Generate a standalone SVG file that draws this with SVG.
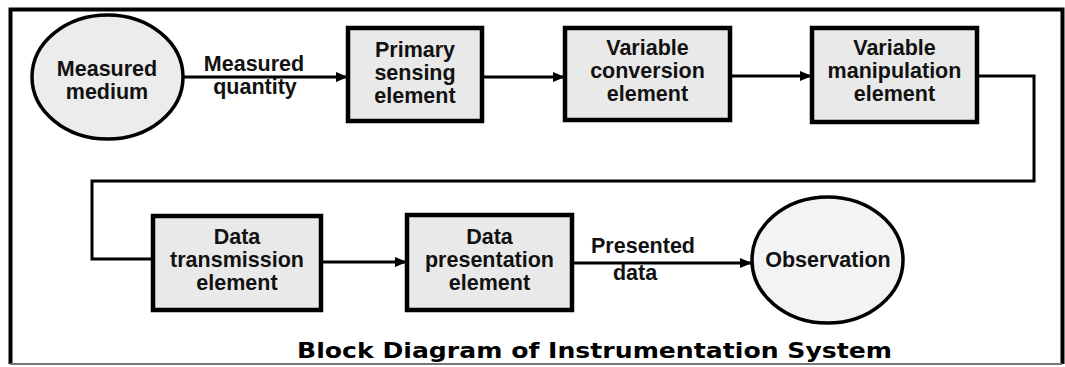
<svg xmlns="http://www.w3.org/2000/svg" width="1065" height="367" viewBox="0 0 1065 367">
<style>
.box{fill:#e9e9e9;stroke:#000;stroke-width:4.5}
.circ{fill:#ececec;stroke:#000;stroke-width:3.5}
.obs{fill:#f3f3f3;stroke:#000;stroke-width:3.5}
.t{font-family:"Liberation Sans",Arial,sans-serif;font-weight:bold;font-size:21.5px;fill:#111;text-anchor:middle}
.ln{fill:none;stroke:#000;stroke-width:3}
.title{font-family:"DejaVu Sans",Verdana,sans-serif;font-weight:bold;font-size:22px;fill:#000;text-anchor:middle}
</style>
<defs>
<marker id="ah" viewBox="0 0 12 10" refX="12" refY="5" markerWidth="12" markerHeight="10" markerUnits="userSpaceOnUse" orient="auto">
<path d="M0,0 L12,5 L0,10 Z" fill="#000"/>
</marker>
</defs>
<rect width="1065" height="367" fill="#fff"/>
<g id="frame">
<path d="M10.5,364 V9.5 H1062.5 V364" fill="none" stroke="#000" stroke-width="4"/>
<path d="M10,364 H1062" fill="none" stroke="#777" stroke-width="2"/>
</g>
<g id="connectors">
<line class="ln" x1="183" y1="77" x2="348" y2="77" marker-end="url(#ah)"/>
<line class="ln" x1="482" y1="77" x2="565" y2="77" marker-end="url(#ah)"/>
<line class="ln" x1="730" y1="76" x2="812" y2="76" marker-end="url(#ah)"/>
<path class="ln" d="M977,76 H1034 V181 H92 V259 H153"/>
<line class="ln" x1="321" y1="262" x2="407" y2="262" marker-end="url(#ah)"/>
<line class="ln" x1="572" y1="263" x2="752" y2="263" marker-end="url(#ah)"/>
<text class="t" x="254" y="71">Measured</text>
<text class="t" x="255" y="94">quantity</text>
<text class="t" x="643" y="253">Presented</text>
<text class="t" x="635" y="280">data</text>
</g>
<g id="measured-medium">
<ellipse class="circ" cx="107.5" cy="77" rx="75.5" ry="62"/>
<text class="t" x="107" y="76">Measured</text>
<text class="t" x="107" y="99">medium</text>
</g>
<g id="primary-sensing">
<rect class="box" x="348" y="28" width="134" height="93"/>
<text class="t" x="415" y="57">Primary</text>
<text class="t" x="415" y="80">sensing</text>
<text class="t" x="415" y="103">element</text>
</g>
<g id="variable-conversion">
<rect class="box" x="565" y="28" width="165" height="92"/>
<text class="t" x="647.5" y="55">Variable</text>
<text class="t" x="647.5" y="78">conversion</text>
<text class="t" x="647.5" y="101">element</text>
</g>
<g id="variable-manipulation">
<rect class="box" x="812" y="28" width="165" height="94"/>
<text class="t" x="894.5" y="55">Variable</text>
<text class="t" x="894.5" y="78">manipulation</text>
<text class="t" x="894.5" y="101">element</text>
</g>
<g id="data-transmission">
<rect class="box" x="153" y="216" width="168" height="94"/>
<text class="t" x="237" y="244">Data</text>
<text class="t" x="237" y="267">transmission</text>
<text class="t" x="237" y="290">element</text>
</g>
<g id="data-presentation">
<rect class="box" x="407" y="215" width="165" height="95"/>
<text class="t" x="489.5" y="244">Data</text>
<text class="t" x="489.5" y="267">presentation</text>
<text class="t" x="489.5" y="290">element</text>
</g>
<g id="observation">
<ellipse class="obs" cx="827.5" cy="260" rx="75.5" ry="63"/>
<text class="t" x="828" y="267">Observation</text>
</g>
<text class="title" x="594.5" y="358" textLength="595" lengthAdjust="spacingAndGlyphs">Block Diagram of Instrumentation System</text>
</svg>
